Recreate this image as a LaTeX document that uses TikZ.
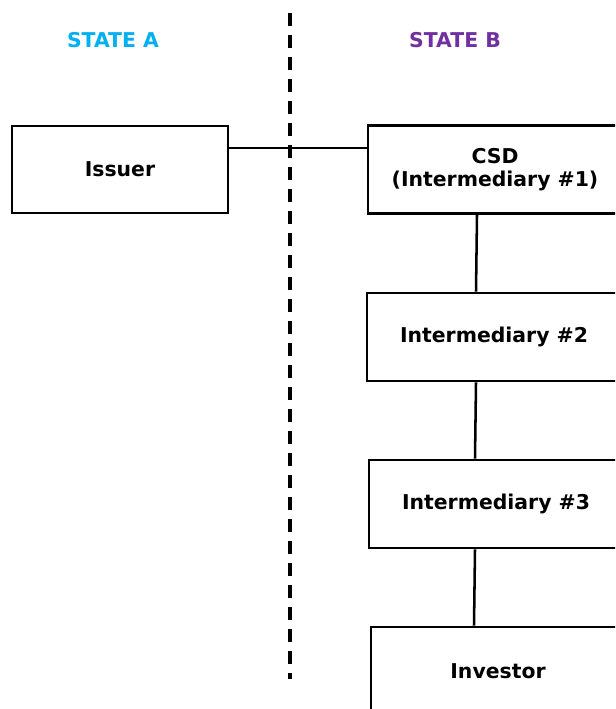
\documentclass[tikz,border=0pt]{standalone}
\usepackage{fontspec}
\setmainfont{DejaVu Sans}
\definecolor{stateA}{RGB}{0,176,240}
\definecolor{stateB}{RGB}{112,48,160}
\begin{document}
\begin{tikzpicture}[x=0.75pt,y=-0.75pt,
  lbl/.style={font=\bfseries\fontsize{15.3}{17}\selectfont, align=center, inner sep=0pt},
  box/.style={lbl, draw, line width=2.2pt, minimum width=190.5pt, minimum height=66pt},
  link/.style={line width=1.9pt},
  divider/.style={line width=2.4pt, dash pattern=on 9.75pt off 6.75pt}]
\useasboundingbox (0,0) rectangle (615,709);
\clip (0,0) rectangle (615,709);
\node[lbl, text=stateA] (sa) at (113,40) {STATE A};
\node[lbl, text=stateB] (sb) at (455,40) {STATE B};
\coordinate (dtop) at (290,13);
\coordinate (dbot) at (290,679);
\draw[divider] (dtop) -- (dbot);
\node[box, minimum width=162pt, minimum height=65.25pt] (issuer) at (120,169.5) {Issuer};
\node[box] (csd) at (495,169.5) {CSD\\(Intermediary \#1)};
\node[box] (int2) at (494,337) {Intermediary \#2};
\node[box] (int3) at (496,504) {Intermediary \#3};
\node[box] (inv) at (498,671) {Investor};
\draw[link] ([yshift=16.1pt]issuer.east) -- ([yshift=16.1pt]csd.west);
\draw[link] ([xshift=-13.5pt]csd.south) -- ([xshift=-13.5pt]int2.north);
\draw[link] ([xshift=-13.5pt]int2.south) -- ([xshift=-15.75pt]int3.north);
\draw[link] ([xshift=-15.75pt]int3.south) -- ([xshift=-18pt]inv.north);
\end{tikzpicture}
\end{document}
